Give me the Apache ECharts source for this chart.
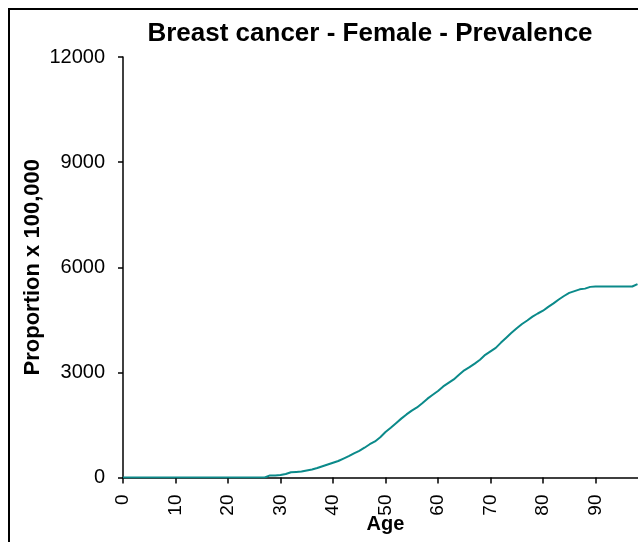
<!DOCTYPE html>
<html>
<head>
<meta charset="utf-8">
<script src="https://cdn.jsdelivr.net/npm/echarts@6/dist/echarts.min.js"></script>
<style>
html,body{margin:0;padding:0;background:#fff;}
#chart{width:638px;height:542px;}
</style>
</head>
<body>
<div id="chart"></div>
<script>
const titleText = 'Breast cancer - Female - Prevalence';
const xAxisName = 'Age';
const yAxisName = 'Proportion x 100,000';
const yTicks = [0, 3000, 6000, 9000, 12000];
const xTicks = [0, 10, 20, 30, 40, 50, 60, 70, 80, 90];
const ages = [
  0,1,2,3,4,5,6,7,8,9,10,11,12,13,14,15,16,17,18,19,
  20,21,22,23,24,25,26,27,28,29,30,31,32,33,34,35,36,37,38,39,
  40,41,42,43,44,45,46,47,48,49,50,51,52,53,54,55,56,57,58,59,
  60,61,62,63,64,65,66,67,68,69,70,71,72,73,74,75,76,77,78,79,
  80,81,82,83,84,85,86,87,88,89,90,91,92,93,94,95,96,97,98
];
const prevalence = [
  0,0,0,0,0,0,0,0,0,0,0,0,0,0,0,0,0,0,0,0,
  0,0,0,0,0,0,0,0,60,60,70,100,150,160,170,200,230,270,320,370,
  420,470,540,610,690,760,850,950,1030,1150,1300,1420,1550,1680,1800,1910,2000,2120,2250,2360,
  2470,2600,2700,2800,2930,3060,3150,3250,3360,3500,3600,3700,3850,3990,4130,4260,4380,4480,4590,4680,
  4760,4870,4970,5080,5180,5270,5320,5370,5390,5440,5450,5450,5450,5450,5450,5450,5450,5450,5520
];

const chart = echarts.init(document.getElementById('chart'), null, {renderer: 'canvas'});
const font = 'Liberation Sans, Arial, sans-serif';
chart.setOption({
  backgroundColor: '#ffffff',
  animation: false,
  title: {
    text: titleText,
    left: 365, top: 16, textAlign: 'center',
    textStyle: {fontFamily: font, fontSize: 26, fontWeight: 'bold', color: '#000'}
  },
  graphic: [{
    type: 'rect', silent: true,
    shape: {x: 9, y: 9, width: 700, height: 600},
    style: {fill: 'none', stroke: '#000', lineWidth: 2}
  }],
  grid: {left: 123, top: 57, bottom: 64.5, width: 525, containLabel: false, outerBoundsMode: 'none'},
  xAxis: {
    type: 'value', min: 0, max: 100, interval: 10,
    name: xAxisName, nameLocation: 'middle', nameGap: 37, nameMoveOverlap: false,
    nameTextStyle: {fontFamily: font, fontSize: 20, fontWeight: 'bold', color: '#000', verticalAlign: 'top'},
    axisLine: {onZero: false, lineStyle: {color: '#000', width: 1.5}},
    axisTick: {length: 6, lineStyle: {color: '#000', width: 1.5}},
    axisLabel: {rotate: 90, margin: 17, fontFamily: font, fontSize: 19, color: '#000',
      formatter: v => (xTicks.indexOf(v) >= 0 ? String(v) : '')},
    splitLine: {show: false}
  },
  yAxis: {
    type: 'value', min: 0, max: 12000, interval: 3000,
    name: yAxisName, nameLocation: 'middle', nameGap: 79, nameRotate: 90, nameMoveOverlap: false,
    nameTextStyle: {fontFamily: font, fontSize: 22, fontWeight: 'bold', color: '#000'},
    axisLine: {show: true, lineStyle: {color: '#000', width: 1.5}},
    axisTick: {show: true, length: 5, lineStyle: {color: '#000', width: 1.5}},
    axisLabel: {margin: 18, fontFamily: font, fontSize: 20, color: '#000',
      formatter: v => (yTicks.indexOf(v) >= 0 ? String(v) : '')},
    splitLine: {show: false}
  },
  series: [{
    type: 'line',
    data: ages.map((a, i) => [a, prevalence[i]]),
    showSymbol: false,
    lineStyle: {color: '#0b8a8a', width: 2},
    itemStyle: {color: '#0b8a8a'}
  }]
});
</script>
</body>
</html>
